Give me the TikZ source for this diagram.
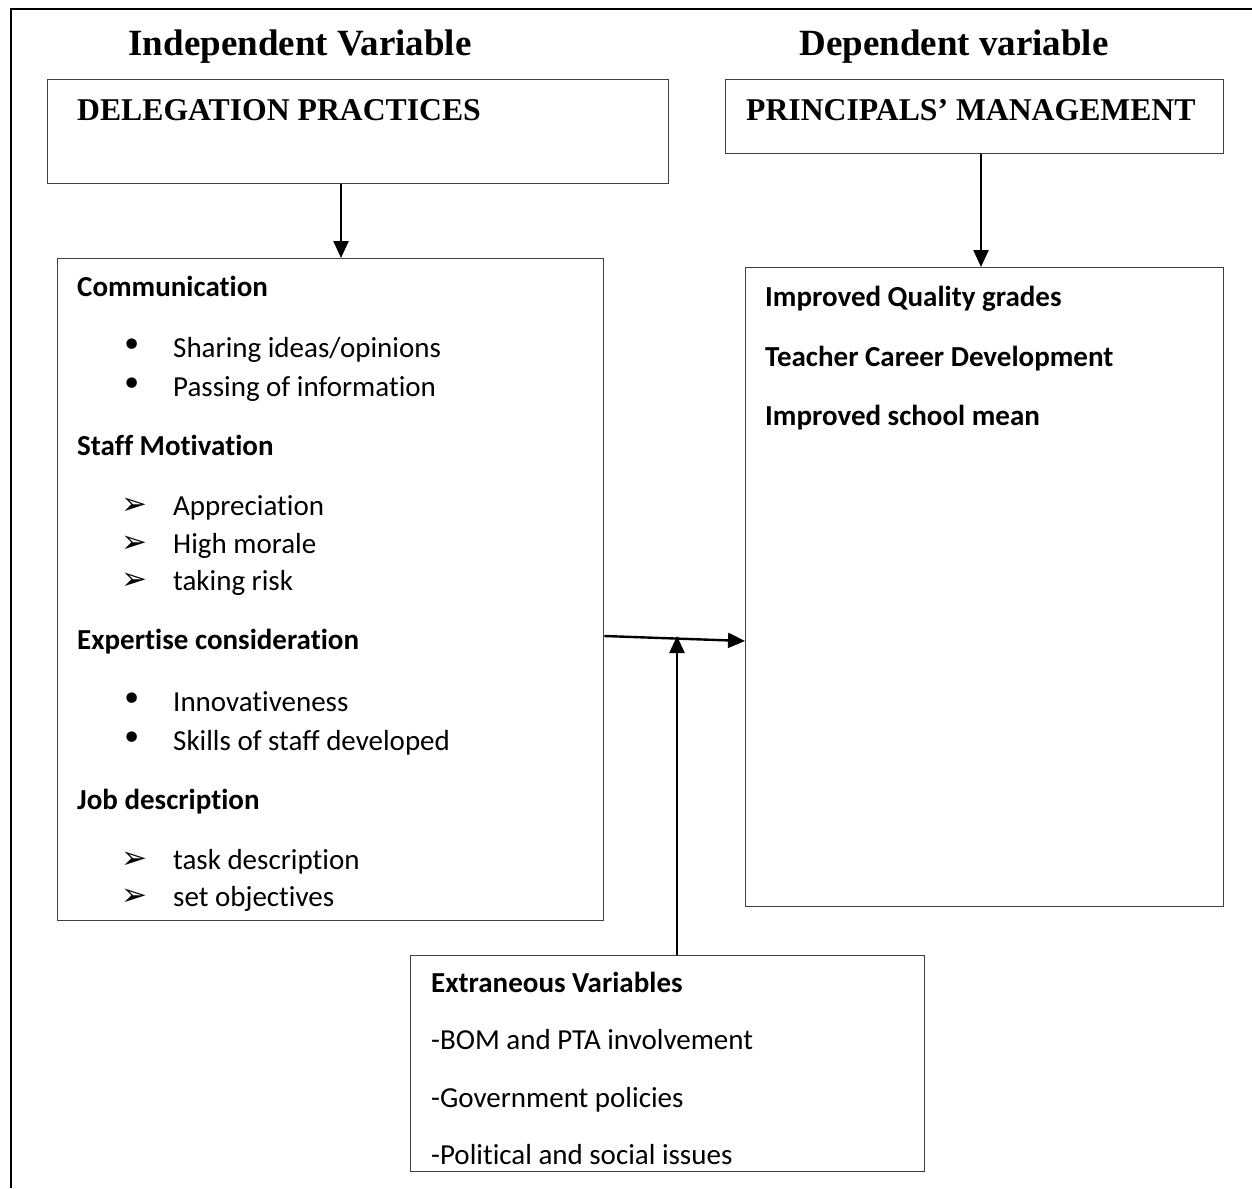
\documentclass[tikz,border=0pt]{standalone}
\usepackage{fontspec}
\setmainfont{Carlito}[Ligatures=NoCommon]
\newfontfamily\timesf{Liberation Serif}
\newfontfamily\dejavu{DejaVu Sans}
\usetikzlibrary{arrows.meta}
\begin{document}
\begin{tikzpicture}[x=1pt,y=-1pt,
  boxframe/.style={draw=black!75, line width=1.3pt, inner sep=0pt, anchor=north west},
  heading/.style={font=\timesf\bfseries\fontsize{37}{40}\selectfont, anchor=base, inner sep=0pt},
  boxtitle/.style={font=\timesf\bfseries\fontsize{31.7}{34}\selectfont, anchor=base west, inner sep=0pt},
  item/.style={font=\fontsize{29}{32}\selectfont, anchor=base west, inner sep=0pt},
  bolditem/.style={font=\bfseries\fontsize{29}{32}\selectfont, anchor=base west, inner sep=0pt},
  dotbullet/.style={font=\dejavu\fontsize{36}{38}\selectfont, inner sep=0pt},
  arrbullet/.style={font=\dejavu\fontsize{31}{34}\selectfont, inner sep=0pt},
  arr/.style={-{Triangle[length=17pt,width=15pt]}, line width=2.4pt, draw=black}
]
\useasboundingbox (0,0) rectangle (1252,1188);
\fill[white] (0,0) rectangle (1252,1188);
% outer frame (open on right and bottom)
\draw[line width=2pt] (11,1188) -- (11,9) -- (1252,9);

% headings
\node[heading] (indep) at (300,56) {Independent Variable};
\node[heading] (dep) at (954,56) {Dependent variable};

% top boxes
\node[boxframe, minimum width=621pt, minimum height=104pt] (deleg) at (47,79) {};
\node[boxtitle] (delegt) at (77,121) {DELEGATION PRACTICES};
\node[boxframe, minimum width=498pt, minimum height=74pt] (princ) at (725,79) {};
\node[boxtitle] (princt) at (746,121) {PRINCIPALS’ MANAGEMENT};

% left big box
\node[boxframe, minimum width=546pt, minimum height=662pt] (leftbox) at (57,258) {};
\node[bolditem] (h1) at (77,296) {Communication};
\node[dotbullet] (d1) at (132,348) {•};
\node[item] (t1) at (173,357) {Sharing ideas/opinions};
\node[dotbullet] (d2) at (132,387) {•};
\node[item] (t2) at (173,396) {Passing of information};
\node[bolditem] (h2) at (77,455) {Staff Motivation};
\node[arrbullet] (a1) at (134,506) {➢};
\node[item] (t3) at (173,515) {Appreciation};
\node[arrbullet] (a2) at (134,544) {➢};
\node[item] (t4) at (173,553) {High morale};
\node[arrbullet] (a3) at (134,581) {➢};
\node[item] (t5) at (173,590) {taking risk};
\node[bolditem] (h3) at (77,649) {Expertise consideration};
\node[dotbullet] (d3) at (132,702) {•};
\node[item] (t6) at (173,711) {Innovativeness};
\node[dotbullet] (d4) at (132,741) {•};
\node[item] (t7) at (173,750) {Skills of staff developed};
\node[bolditem] (h4) at (77,809) {Job description};
\node[arrbullet] (a4) at (134,860) {➢};
\node[item] (t8) at (173,869) {task description};
\node[arrbullet] (a5) at (134,897) {➢};
\node[item] (t9) at (173,906) {set objectives};

% right big box
\node[boxframe, minimum width=478pt, minimum height=639pt] (rightbox) at (745,267) {};
\node[bolditem] (r1) at (765,306) {Improved Quality grades};
\node[bolditem] (r2) at (765,366) {Teacher Career Development};
\node[bolditem] (r3) at (765,425) {Improved school mean};

% extraneous box
\node[boxframe, minimum width=514pt, minimum height=216pt] (extbox) at (410,955) {};
\node[bolditem] (e0) at (431,992) {Extraneous Variables};
\node[item] (e1) at (431,1049) {-BOM and PTA involvement};
\node[item] (e2) at (431,1107) {-Government policies};
\node[item] (e3) at (431,1164) {-Political and social issues};

% connectors
\coordinate (xa) at (341,0);
\coordinate (xb) at (981,0);
\coordinate (xc) at (677,0);
\coordinate (meet) at (677,636);
\draw[arr] (deleg.south -| xa) -- (leftbox.north -| xa);
\draw[arr] (princ.south -| xb) -- (rightbox.north -| xb);
\draw[arr] (leftbox.east |- 0,636) -- (rightbox.west |- 0,641);
\draw[arr] (extbox.north -| xc) -- (meet);
\end{tikzpicture}
\end{document}
